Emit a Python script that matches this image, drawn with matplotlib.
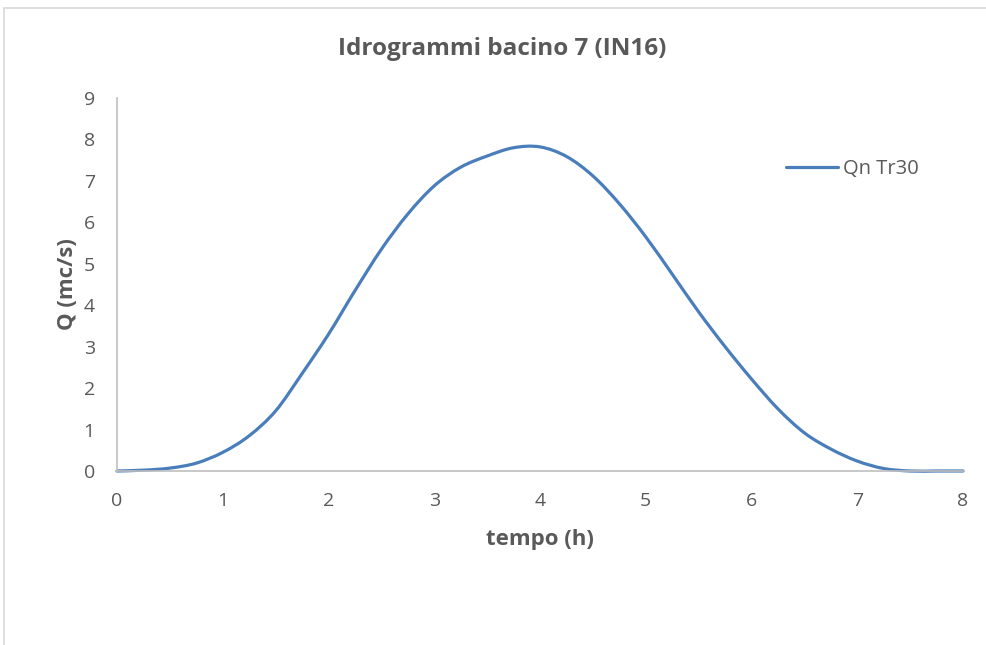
import matplotlib.pyplot as plt
from matplotlib.path import Path
from matplotlib.patches import PathPatch, Rectangle
from matplotlib.lines import Line2D
import numpy as np

# dati
tempo = [0, 0.25, 0.5, 0.75, 1.0, 1.25, 1.5, 1.75, 2.0, 2.25, 2.5, 2.75, 3.0, 3.25,
         3.5, 3.75, 4.0, 4.25, 4.5, 4.75, 5.0, 5.25, 5.5, 5.75, 6.0, 6.25, 6.5,
         6.75, 7.0, 7.25, 7.5, 7.75, 8.0]
portata = [0, 0.02, 0.07, 0.19, 0.45, 0.85, 1.45, 2.35, 3.3, 4.35, 5.35, 6.2, 6.88, 7.33,
           7.6, 7.8, 7.82, 7.59, 7.12, 6.45, 5.65, 4.75, 3.84, 3.0, 2.22, 1.5, 0.92,
           0.53, 0.24, 0.06, 0.0, 0.0, 0.0]
serie = 'Qn Tr30'
x_ticks = list(range(0, 9))
y_ticks = list(range(0, 10))

grigio = '#595959'
blu = '#4A7EBB'
plt.rcParams['font.family'] = ['Open Sans', 'DejaVu Sans']

fig = plt.figure(figsize=(9.86, 6.45), dpi=100)
ax = fig.add_axes([117/986, 1 - 471/645, (963 - 117)/986, (471 - 98)/645])

# bordo dell'area grafico
fig.patches.append(Rectangle((4/986, -0.1), 1.2, 1.1 - 8/645, transform=fig.transFigure,
                             fill=False, edgecolor='#D9D9D9', linewidth=1.2))

# linea smussata come in Excel (spline cardinale con curve di Bezier)
x = np.array(tempo)
y = np.array(portata)
verts = [(x[0], y[0])]
codes = [Path.MOVETO]
n = len(x)
for i in range(n - 1):
    x0, y0 = (x[i - 1], y[i - 1]) if i > 0 else (x[i], y[i])
    x3, y3 = (x[i + 2], y[i + 2]) if i + 2 < n else (x[i + 1], y[i + 1])
    c1 = (x[i] + (x[i + 1] - x0) / 6, y[i] + (y[i + 1] - y0) / 6)
    c2 = (x[i + 1] - (x3 - x[i]) / 6, y[i + 1] - (y3 - y[i]) / 6)
    verts += [c1, c2, (x[i + 1], y[i + 1])]
    codes += [Path.CURVE4] * 3
ax.add_patch(PathPatch(Path(verts, codes), facecolor='none', edgecolor=blu,
                       linewidth=2.3, capstyle='round', joinstyle='round', clip_on=False))

ax.set_xlim(0, 8)
ax.set_ylim(0, 9)
ax.set_xticks(x_ticks)
ax.set_yticks(y_ticks)
ax.tick_params(length=0, labelsize=14, labelcolor=grigio)
ax.tick_params(axis='x', pad=15)
ax.tick_params(axis='y', pad=16)
for s in ['top', 'right']:
    ax.spines[s].set_visible(False)
for s in ['left', 'bottom']:
    ax.spines[s].set_color('#BFBFBF')
    ax.spines[s].set_linewidth(1.2)

fig.text(502/986, 1 - 49/645, 'Idrogrammi bacino 7 (IN16)', fontsize=17.5, fontweight='bold',
         color=grigio, ha='center', va='center')
ax.set_xlabel('tempo (h)', fontsize=16, fontweight='bold', color=grigio, labelpad=14)
ax.set_ylabel('Q (mc/s)', fontsize=16, fontweight='bold', color=grigio, labelpad=4)

handle = Line2D([], [], color=blu, linewidth=2.3, solid_capstyle='round')
ax.legend([handle], [serie], loc='upper left', bbox_to_anchor=(768/986, 1 - 141/645),
          bbox_transform=fig.transFigure, frameon=False, fontsize=14.5, labelcolor=grigio,
          handlelength=2.6, handletextpad=0.2)

fig.savefig('out.png', dpi=100)
